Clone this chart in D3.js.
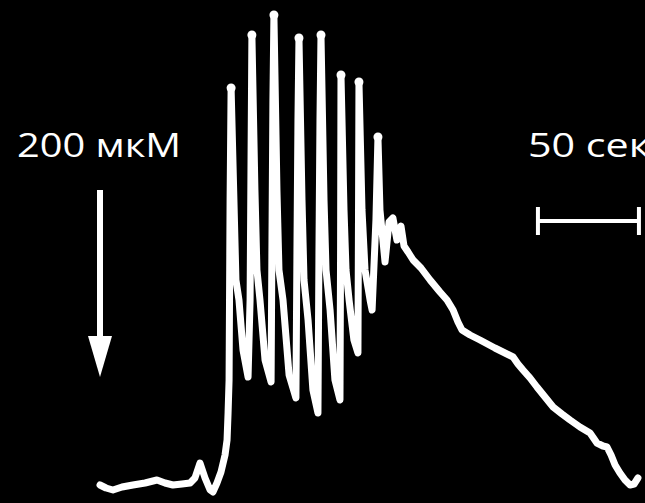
<!DOCTYPE html>
<html>
<head>
<meta charset="utf-8">
<script src="https://cdn.jsdelivr.net/npm/d3@7"></script>
<style>
  html, body { margin: 0; padding: 0; background: #000; }
  svg { display: block; }
</style>
</head>
<body>
<script>
// Time (s) and signal (a.u.) of the trace
const timeSec = [0, 3.0, 6.4, 10.9, 16.3, 22.3, 28.2, 32.2, 36.1, 40.6, 44.6, 47.0, 49.5, 52.0, 54.5, 55.9, 57.9, 59.9, 61.9, 62.9, 63.4, 63.9, 64.4, 64.9,
  66.3, 67.3, 68.8, 70.8, 73.3, 74.3, 74.8, 75.2,
  76.7, 77.7, 79.2, 81.7, 84.7, 85.1, 85.6, 86.1,
  87.6, 88.6, 90.6, 93.6, 97.0, 97.5, 98.0, 98.5,
  100.0, 101.0, 103.0, 105.4, 107.9, 108.4, 108.9, 109.4,
  110.9, 111.9, 113.9, 116.3, 118.8, 119.1, 119.3,
  120.8, 121.8, 123.3, 125.7, 127.7, 128.0, 128.2,
  129.7, 131.2, 133.7, 134.7, 136.6, 137.6,
  138.6, 141.1, 143.1, 145.0, 147.0, 149.0, 150.5, 152.5, 155.0, 158.9, 163.4, 168.3, 171.8, 174.8, 177.2, 179.2, 183.2, 188.1, 195.5, 204.5, 206.9, 209.4, 212.9, 216.3, 220.3, 224.3, 228.7, 232.7, 237.6, 242.6, 246.0, 249.0, 251.0, 253.0, 255.0, 257.4, 259.9, 262.4, 264.4, 266.3];
const signal = [3.0, 2.4, 2.0, 2.6, 3.0, 3.4, 4.0, 3.4, 3.0, 3.2, 3.4, 4.4, 7.4, 4.4, 2.0, 1.6, 3.4, 5.6, 9.0, 12.0, 17.4, 24.0, 60, 82.4,
  60, 44, 40, 30, 24.6, 40, 70, 93,
  62, 46, 40, 28, 23.6, 50, 80, 97,
  62, 46, 40, 25, 20.4, 50, 76, 92.4,
  60, 44, 36, 22, 17.4, 50, 76, 93,
  60, 46, 38, 24, 20, 50, 85,
  58, 46, 40, 32, 29.4, 60, 83.6,
  58, 46, 40, 38, 56, 72.6,
  58, 47.6, 55.6, 56.4, 52, 54.8, 50.8, 49.6, 48, 46.4, 44, 41.6, 40, 38, 35.6, 34, 33, 32, 30.4, 28.6, 27.2, 26, 24.4, 22.6, 20.6, 18.6, 17.2, 16, 14.6, 13.4, 11.4, 10.8, 10.6, 9, 7, 5.4, 4, 3, 3.2, 4.4];

// Annotations
const doseLabel = "200 мкМ";
const stimulusTime = 0;
const scaleBarLabel = "50 сек";
const scaleBarSeconds = 50;
const scaleBarStart = 216.8;

const W = 645, H = 503;
const svg = d3.select("body").append("svg").attr("width", W).attr("height", H);
svg.append("rect").attr("width", W).attr("height", H).attr("fill", "#000");

const defs = svg.append("defs");
defs.append("filter").attr("id", "soft")
  .append("feGaussianBlur").attr("stdDeviation", 0.7);

const x = d3.scaleLinear().domain([0, 270]).range([100, 100 + 270 * 2.02]);
const y = d3.scaleLinear().domain([0, 100]).range([500, 0]);

const data = timeSec.map((t, i) => ({ t, v: signal[i] }));

const g = svg.append("g").attr("filter", "url(#soft)");

g.append("path")
  .datum(data)
  .attr("fill", "none")
  .attr("stroke", "#fff")
  .attr("stroke-width", 7)
  .attr("stroke-linejoin", "round")
  .attr("stroke-linecap", "round")
  .attr("d", d3.line().x(d => x(d.t)).y(d => y(d.v)));

// small bulbs at spike peaks (local maxima)
const peaks = data.filter((d, i) => i > 0 && i < data.length - 1 &&
  d.v > 70 && d.v >= data[i - 1].v && d.v >= data[i + 1].v);
g.selectAll("circle.peak").data(peaks).join("circle")
  .attr("class", "peak")
  .attr("cx", d => x(d.t)).attr("cy", d => y(d.v)).attr("r", 4.5)
  .attr("fill", "#fff");

// Stimulus arrow
const ax = x(stimulusTime);
g.append("line")
  .attr("x1", ax).attr("x2", ax)
  .attr("y1", 190).attr("y2", 345)
  .attr("stroke", "#fff").attr("stroke-width", 6);
g.append("path")
  .attr("d", `M${ax - 12},336 L${ax + 12},336 L${ax},377 Z`)
  .attr("fill", "#fff");

// Dose label
svg.append("text")
  .attr("x", 17).attr("y", 157)
  .attr("fill", "#fff")
  .attr("font-family", "'Open Sans', sans-serif")
  .attr("font-size", 33)
  .attr("textLength", 164)
  .attr("lengthAdjust", "spacingAndGlyphs")
  .text(doseLabel);

// Scale bar
const sx0 = x(scaleBarStart), sx1 = x(scaleBarStart + scaleBarSeconds);
const sb = g.append("g").attr("stroke", "#fff").attr("stroke-width", 4);
sb.append("line").attr("x1", sx0).attr("x2", sx1).attr("y1", 221).attr("y2", 221);
sb.append("line").attr("x1", sx0).attr("x2", sx0).attr("y1", 207).attr("y2", 235);
sb.append("line").attr("x1", sx1).attr("x2", sx1).attr("y1", 207).attr("y2", 235);

svg.append("text")
  .attr("x", 528).attr("y", 157)
  .attr("fill", "#fff")
  .attr("font-family", "'Open Sans', sans-serif")
  .attr("font-size", 33)
  .attr("textLength", 122)
  .attr("lengthAdjust", "spacingAndGlyphs")
  .text(scaleBarLabel);
</script>
</body>
</html>
